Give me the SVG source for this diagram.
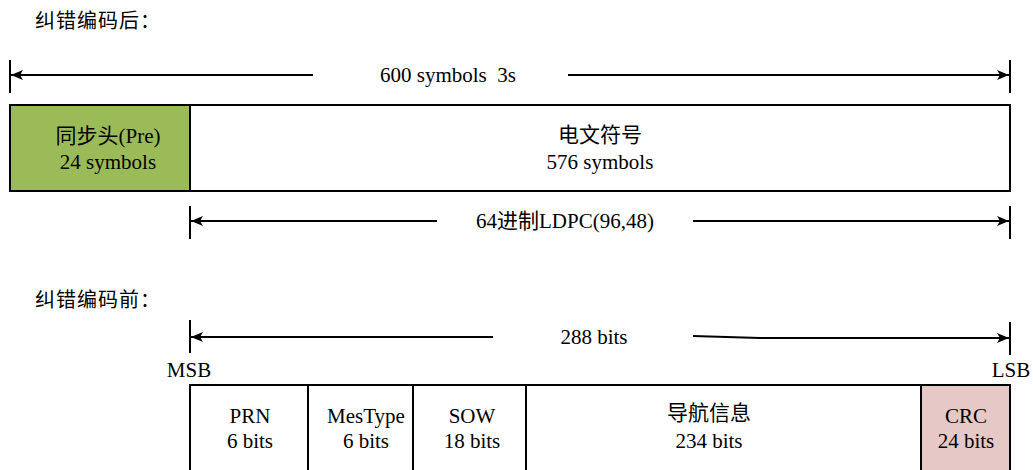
<svg xmlns="http://www.w3.org/2000/svg" width="1033" height="470" viewBox="0 0 1033 470">
<defs>
<marker id="ah" viewBox="0 0 12 10" refX="12" refY="5" markerWidth="12" markerHeight="10" markerUnits="userSpaceOnUse" orient="auto">
<path d="M0,0 L12,5 L0,10 L3,5 Z" fill="#000"/>
</marker>
</defs>
<style>
.t{font-family:"Liberation Serif","Noto Sans CJK SC",serif;font-size:21px;fill:#000;text-anchor:middle}
.h{font-family:"Noto Sans CJK SC",sans-serif;font-size:20px;letter-spacing:1px;fill:#000}
.box{stroke:#000;stroke-width:2;fill:#fff}
.ln{stroke:#000;stroke-width:2;fill:none}
</style>
<rect width="1033" height="470" fill="#fff"/>
<text class="h" x="35" y="28">纠错编码后：</text>
<text class="h" x="35" y="307">纠错编码前：</text>
<g id="connectors">
<line class="ln" x1="10" y1="60" x2="10" y2="93"/>
<line class="ln" x1="1010" y1="60" x2="1010" y2="93"/>
<line class="ln" x1="313" y1="75" x2="11" y2="75" marker-end="url(#ah)"/>
<line class="ln" x1="568" y1="75" x2="1009" y2="75" marker-end="url(#ah)"/>
<line class="ln" x1="190" y1="206" x2="190" y2="239"/>
<line class="ln" x1="1010" y1="206" x2="1010" y2="239"/>
<line class="ln" x1="437" y1="221" x2="191" y2="221" marker-end="url(#ah)"/>
<line class="ln" x1="693" y1="221" x2="1009" y2="221" marker-end="url(#ah)"/>
<line class="ln" x1="190" y1="320" x2="190" y2="353"/>
<line class="ln" x1="1010" y1="322" x2="1010" y2="355"/>
<line class="ln" x1="493" y1="337" x2="191" y2="337" marker-end="url(#ah)"/>
<path class="ln" d="M693,336 L760,338 L1009,338" marker-end="url(#ah)"/>
</g>
<text class="t" x="448" y="82">600 symbols&#160; 3s</text>
<text class="t" x="565" y="228">64进制LDPC(96,48)</text>
<text class="t" x="594" y="344">288 bits</text>
<text class="t" x="189" y="377">MSB</text>
<text class="t" x="1011" y="377">LSB</text>
<g id="pre">
<rect class="box" x="10" y="105" width="180" height="86" style="fill:#9bbb59"/>
<text class="t" x="108" y="143">同步头(Pre)</text>
<text class="t" x="108" y="169">24 symbols</text>
</g>
<g id="msg">
<rect class="box" x="190" y="105" width="820" height="86"/>
<text class="t" x="600" y="142">电文符号</text>
<text class="t" x="600" y="169">576 symbols</text>
</g>
<g id="prn">
<rect class="box" x="190" y="385" width="118" height="95"/>
<text class="t" x="250" y="423">PRN</text>
<text class="t" x="250" y="448">6 bits</text>
</g>
<g id="mestype">
<rect class="box" x="308" y="385" width="105" height="95"/>
<text class="t" x="366" y="423">MesType</text>
<text class="t" x="366" y="448">6 bits</text>
</g>
<g id="sow">
<rect class="box" x="413" y="385" width="113" height="95"/>
<text class="t" x="472" y="423">SOW</text>
<text class="t" x="472" y="448">18 bits</text>
</g>
<g id="nav">
<rect class="box" x="526" y="385" width="395" height="95"/>
<text class="t" x="709" y="420">导航信息</text>
<text class="t" x="709" y="448">234 bits</text>
</g>
<g id="crc">
<rect class="box" x="921" y="385" width="89" height="95" style="fill:#e6c8c6"/>
<text class="t" x="966" y="423">CRC</text>
<text class="t" x="966" y="448">24 bits</text>
</g>
</svg>
